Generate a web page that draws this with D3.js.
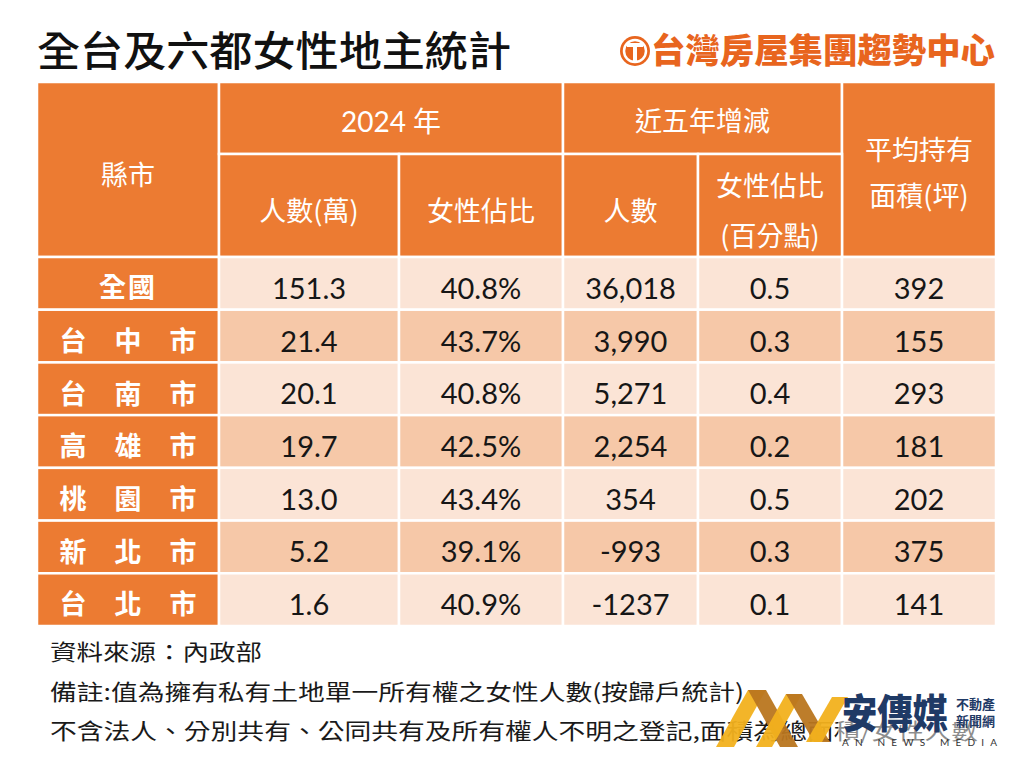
<!DOCTYPE html>
<html><head><meta charset="utf-8">
<script src="https://cdn.jsdelivr.net/npm/d3@7"></script>
<style>body{margin:0;background:#fff}svg{display:block}</style>
</head><body><svg id="c" width="1024" height="768"></svg>
<script>
// ---- data ----
const title = "全台及六都女性地主統計";
const brand = "台灣房屋集團趨勢中心";
const cities = ["全國", "台中市", "台南市", "高雄市", "桃園市", "新北市", "台北市"];
const people2024 = ["151.3", "21.4", "20.1", "19.7", "13.0", "5.2", "1.6"];
const femaleShare = ["40.8%", "43.7%", "40.8%", "42.5%", "43.4%", "39.1%", "40.9%"];
const changePeople = ["36,018", "3,990", "5,271", "2,254", "354", "-993", "-1237"];
const changeShare = ["0.5", "0.3", "0.4", "0.2", "0.5", "0.3", "0.1"];
const avgArea = ["392", "155", "293", "181", "202", "375", "141"];
const groupHeaders = ["2024 年", "近五年增減"];
const subHeaders = [["人數(萬)"], ["女性佔比"], ["人數"], ["女性佔比", "(百分點)"]];
const cornerHeader = "縣市";
const lastHeader = ["平均持有", "面積(坪)"];
const notes = ["資料來源：內政部",
  "備註:值為擁有私有土地單一所有權之女性人數(按歸戶統計)",
  "不含法人、分別共有、公同共有及所有權人不明之登記,面積為總面積/女性人數"];

// ---- layout ----
const svg = d3.select("#c");
const ORANGE = "#EC7B32", LIGHT = "#FBE4D6", DARK = "#F6C8A8";
const cjk = "'Noto Sans CJK TC','Noto Sans CJK SC',sans-serif";
const num = "Lato,'Noto Sans CJK TC',sans-serif";
const colKeys = ["city", "p", "s", "cp", "cs", "a"];
const colW = [182, 180, 164, 135, 144, 154];
const edges = [37, ...d3.cumsum(colW).map(v => v + 37)];
const x = d3.scaleOrdinal().domain(colKeys).range(edges.slice(0, 6));
const w = d3.scaleOrdinal().domain(colKeys).range(colW);
const y = d3.scaleBand().domain(cities).range([257, 626]);
const hTop = 82, hMid = 154, hBot = 257;

svg.append("rect").attr("width", 1024).attr("height", 768).attr("fill", "#fff");

// title
svg.append("text").attr("x", 37).attr("y", 66).attr("font-family", cjk).attr("font-weight", 500)
  .attr("font-size", 41).attr("fill", "#111").attr("textLength", 474).attr("lengthAdjust", "spacingAndGlyphs").text(title);

// brand logo
const lg = svg.append("g");
lg.append("circle").attr("cx", 635).attr("cy", 51).attr("r", 15).attr("fill", "#E8651E");
lg.append("circle").attr("cx", 635).attr("cy", 51).attr("r", 11).attr("fill", "none").attr("stroke", "#fff").attr("stroke-width", 2.5);
lg.append("path").attr("d", "M627,45 H643 M635,45 V61").attr("stroke", "#fff").attr("stroke-width", 4).attr("fill", "none");
lg.append("text").attr("x", 651).attr("y", 63).attr("font-family", cjk).attr("font-weight", 900)
  .attr("font-size", 34).attr("fill", "#E8651E").attr("textLength", 344).attr("lengthAdjust", "spacingAndGlyphs").text(brand);

// header cells
const hdr = svg.append("g");
function cell(g, x0, y0, ww, hh, fill) {
  g.append("rect").attr("x", x0).attr("y", y0).attr("width", ww).attr("height", hh)
    .attr("fill", fill).attr("stroke", "#fff").attr("stroke-width", 2.5);
}
function label(g, cx, cy, lines, opts) {
  const o = Object.assign({size: 27, fill: "#fff", weight: 400, lh: 48, family: cjk}, opts || {});
  lines.forEach((t, i) => {
    g.append("text").attr("x", cx).attr("y", cy + (i - (lines.length - 1) / 2) * o.lh)
      .attr("dy", "0.36em").attr("text-anchor", "middle").attr("font-family", o.family)
      .attr("font-size", o.size).attr("font-weight", o.weight).attr("fill", o.fill)
      .attr("letter-spacing", o.ls || 0).text(t);
  });
}
cell(hdr, x("city"), hTop, w("city"), hBot - hTop, ORANGE);
label(hdr, x("city") + w("city") / 2, 175, [cornerHeader]);
cell(hdr, x("p"), hTop, w("p") + w("s"), hMid - hTop, ORANGE);
label(hdr, x("p") + (w("p") + w("s")) / 2, 122, [groupHeaders[0]], {family: num, size: 28});
cell(hdr, x("cp"), hTop, w("cp") + w("cs"), hMid - hTop, ORANGE);
label(hdr, x("cp") + (w("cp") + w("cs")) / 2, 121, [groupHeaders[1]]);
cell(hdr, x("a"), hTop, w("a"), hBot - hTop, ORANGE);
label(hdr, x("a") + w("a") / 2, 173, lastHeader, {lh: 46});
["p", "s", "cp", "cs"].forEach((k, i) => {
  cell(hdr, x(k), hMid, w(k), hBot - hMid, ORANGE);
  label(hdr, x(k) + w(k) / 2, 211, subHeaders[i], {lh: 50});
});

// body
const cols = [people2024, femaleShare, changePeople, changeShare, avgArea];
const body = svg.append("g");
cities.forEach((c, r) => {
  const fill = r % 2 === 0 ? LIGHT : DARK;
  const cy = y(c) + y.bandwidth() / 2;
  cell(body, x("city"), y(c), w("city"), y.bandwidth(), ORANGE);
  if (c.length === 2) {
    label(body, x("city") + w("city") / 2, cy + 4, [c], {weight: 700, size: 27, ls: 2});
  } else {
    [...c].forEach((ch, j) => label(body, x("city") + w("city") / 2 + (j - 1) * 55, cy + 5, [ch], {weight: 700, size: 27}));
  }
  colKeys.slice(1).forEach((k, i) => {
    cell(body, x(k), y(c), w(k), y.bandwidth(), fill);
    label(body, x(k) + w(k) / 2, cy + 5, [cols[i][r]], {family: num, size: 29, fill: "#161616"});
  });
});

// notes
const nt = svg.append("g").attr("font-family", cjk).attr("font-size", 22).attr("fill", "#1a1a1a");
nt.append("text").attr("x", 50).attr("y", 660).attr("textLength", 212).attr("lengthAdjust", "spacingAndGlyphs").text(notes[0]);
nt.append("text").attr("x", 50).attr("y", 700).attr("textLength", 694).attr("lengthAdjust", "spacingAndGlyphs").text(notes[1]);
nt.append("text").attr("x", 50).attr("y", 739).attr("textLength", 928).attr("lengthAdjust", "spacingAndGlyphs").text(notes[2]);

// watermark
const wm = svg.append("g");
wm.append("rect").attr("x", 838).attr("y", 688).attr("width", 160).attr("height", 62).attr("fill", "#fff").attr("opacity", 0.5);
const Y = "#F2B11E", B = "#B9761F";
[["M716,747 L748,690 L766,690 L734,747 Z", Y],
 ["M748,690 L766,690 L798,747 L780,747 Z", B],
 ["M756,747 L786,694 L802,694 L772,747 Z", Y],
 ["M786,694 L802,694 L830,742 L814,742 Z", B],
 ["M806,742 L832,697 L848,697 L822,742 Z", Y]].forEach(([d, f]) =>
  wm.append("path").attr("d", d).attr("fill", f).attr("opacity", 0.95));
wm.append("text").attr("x", 842).attr("y", 728).attr("font-family", cjk).attr("font-weight", 900)
  .attr("font-size", 40).attr("fill", "#1F3A66").attr("textLength", 106).attr("lengthAdjust", "spacingAndGlyphs").text("安傳媒");
wm.append("text").attr("x", 956).attr("y", 709).attr("font-family", cjk).attr("font-weight", 700)
  .attr("font-size", 13).attr("fill", "#1F3A66").text("不動產");
wm.append("text").attr("x", 956).attr("y", 726).attr("font-family", cjk).attr("font-weight", 700)
  .attr("font-size", 13).attr("fill", "#1F3A66").text("新聞網");
wm.append("text").attr("x", 842).attr("y", 746).attr("font-family", num)
  .attr("font-size", 10).attr("fill", "#333").attr("textLength", 155).attr("lengthAdjust", "spacing").text("AN NEWS MEDIA");
</script></body></html>
